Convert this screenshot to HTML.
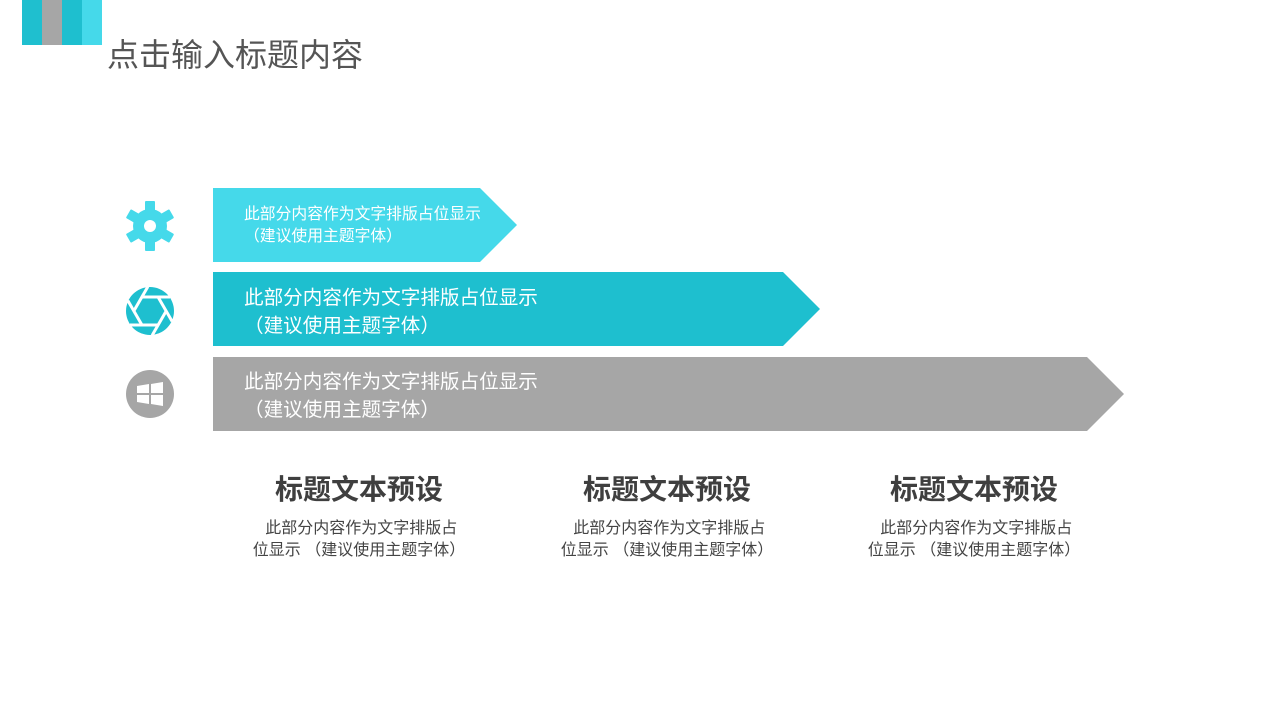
<!DOCTYPE html>
<html><head><meta charset="utf-8"><style>
body{margin:0;width:1280px;height:720px;background:#fff;position:relative;overflow:hidden;font-family:"Liberation Sans","Noto Sans CJK SC",sans-serif}
.a{position:absolute}
.t{position:absolute;color:#fff;white-space:nowrap}
.h{position:absolute;width:300px;text-align:center;font-size:28px;font-weight:bold;color:#3f3f3f}
.p{position:absolute;width:300px;text-align:center;font-size:16px;line-height:22px;color:#444;white-space:nowrap}
</style></head><body>
<div class="a" style="left:22px;top:0;width:20px;height:45px;background:#1fbfcf"></div>
<div class="a" style="left:42px;top:0;width:20px;height:45px;background:#a6a6a6"></div>
<div class="a" style="left:62px;top:0;width:20px;height:45px;background:#1ebfcf"></div>
<div class="a" style="left:82px;top:0;width:20px;height:45px;background:#45d9ea"></div>
<div class="a" style="left:107px;top:30px;font-size:32px;color:#555;white-space:nowrap">点击输入标题内容</div>
<svg class="a" style="left:0;top:0" width="1280" height="720">
<polygon points="213,188 480,188 517,225 480,262 213,262" fill="#45d9ea"/>
<polygon points="213,272 783,272 820,309 783,346 213,346" fill="#1ebfcf"/>
<polygon points="213,357 1087,357 1124,394 1087,431 213,431" fill="#a6a6a6"/>
<g transform="translate(150,226)" fill="#45d9ea">
<circle r="17"/>
<g id="tooth"><rect x="-5" y="-25" width="10" height="10" rx="1"/></g>
<use href="#tooth" transform="rotate(60)"/><use href="#tooth" transform="rotate(120)"/><use href="#tooth" transform="rotate(180)"/><use href="#tooth" transform="rotate(240)"/><use href="#tooth" transform="rotate(300)"/>
<circle r="6" fill="#fff"/>
</g>
<g transform="translate(150,311)">
<circle r="24" fill="#1ebfcf"/>
<g stroke="#fff" stroke-width="3">
<line x1="-8" y1="-14" x2="20" y2="-14" transform="rotate(0)"/>
<line x1="-8" y1="-14" x2="20" y2="-14" transform="rotate(60)"/>
<line x1="-8" y1="-14" x2="20" y2="-14" transform="rotate(120)"/>
<line x1="-8" y1="-14" x2="20" y2="-14" transform="rotate(180)"/>
<line x1="-8" y1="-14" x2="20" y2="-14" transform="rotate(240)"/>
<line x1="-8" y1="-14" x2="20" y2="-14" transform="rotate(300)"/>
</g>
</g>
<g transform="translate(150,394)">
<circle r="24" fill="#a6a6a6"/>
<polygon points="-13,-8 -1,-10 -1,-1 -13,-1" fill="#fff"/>
<polygon points="1,-10 13,-12 13,-1 1,-1" fill="#fff"/>
<polygon points="-13,1 -1,1 -1,10 -13,8" fill="#fff"/>
<polygon points="1,1 13,1 13,12 1,10" fill="#fff"/>
</g>
</svg>
<div class="t" style="left:244px;top:204px;font-size:15.8px;line-height:22px">此部分内容作为文字排版占位显示<br>（建议使用主题字体）</div>
<div class="t" style="left:244px;top:284px;font-size:19.6px;line-height:28px">此部分内容作为文字排版占位显示<br>（建议使用主题字体）</div>
<div class="t" style="left:244px;top:368px;font-size:19.6px;line-height:28px">此部分内容作为文字排版占位显示<br>（建议使用主题字体）</div>
<div class="h" style="left:209px;top:468px">标题文本预设</div>
<div class="h" style="left:517px;top:468px">标题文本预设</div>
<div class="h" style="left:824px;top:468px">标题文本预设</div>
<div class="p" style="left:209px;top:518px">&nbsp;此部分内容作为文字排版占<br>位显示 （建议使用主题字体）</div>
<div class="p" style="left:517px;top:518px">&nbsp;此部分内容作为文字排版占<br>位显示 （建议使用主题字体）</div>
<div class="p" style="left:824px;top:518px">&nbsp;此部分内容作为文字排版占<br>位显示 （建议使用主题字体）</div>
</body></html>
